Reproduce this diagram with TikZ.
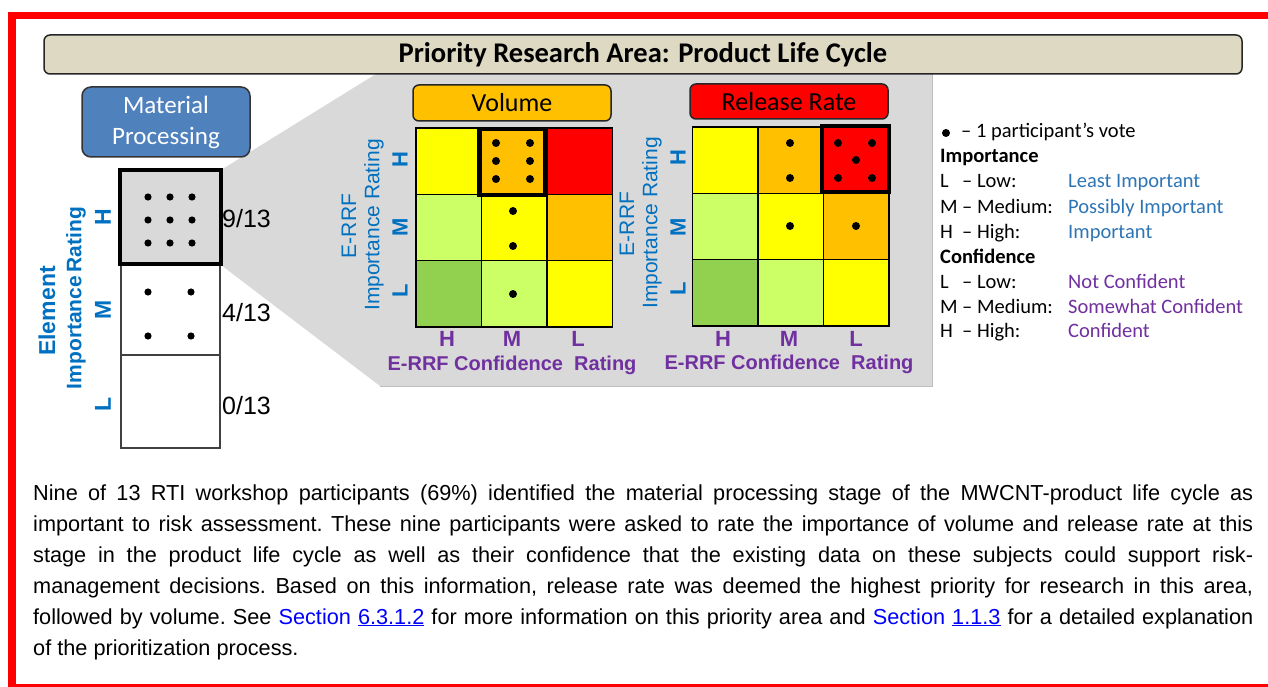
\documentclass[tikz,border=0pt]{standalone}
\usepackage{fontspec}
\setmainfont{Liberation Sans}
\newfontfamily\calfont{Carlito}
\definecolor{cyel}{HTML}{FFFF00}
\definecolor{corg}{HTML}{FFC000}
\definecolor{cred}{HTML}{FF0000}
\definecolor{clg}{HTML}{CCFF66}
\definecolor{cgr}{HTML}{92D050}
\definecolor{cpanel}{HTML}{D9D9D9}
\definecolor{cpanelline}{HTML}{BFBFBF}
\definecolor{ctitle}{HTML}{DDD9C3}
\definecolor{cblue}{HTML}{0070C0}
\definecolor{cpurple}{HTML}{7030A0}
\definecolor{cmat}{HTML}{4F81BD}
\definecolor{clegblue}{HTML}{2E75B6}
\definecolor{clink}{HTML}{0000FF}
\newcommand\mycell[3]{\fill[#3] (#1,#2) rectangle ++(65.5,66.3);}
\newcommand\riskgrid[2]{%
  \mycell{#1}{#2}{cyel}
  \mycell{#1+65.5}{#2}{corg}
  \mycell{#1+131}{#2}{cred}
  \mycell{#1}{#2+66.3}{clg}
  \mycell{#1+65.5}{#2+66.3}{cyel}
  \mycell{#1+131}{#2+66.3}{corg}
  \mycell{#1}{#2+132.6}{cgr}
  \mycell{#1+65.5}{#2+132.6}{clg}
  \mycell{#1+131}{#2+132.6}{cyel}
  \draw[gridline] (#1,#2) rectangle ++(196.5,199);
  \draw[gridline] (#1+65.5,#2) -- ++(0,199);
  \draw[gridline] (#1+131,#2) -- ++(0,199);
  \draw[gridline] (#1,#2+66.3) -- ++(196.5,0);
  \draw[gridline] (#1,#2+132.6) -- ++(196.5,0);
}
\begin{document}
\begin{tikzpicture}[x=1pt,y=-1pt,
  gridline/.style={draw=black,line width=1.2},
  vdot/.style={fill=black},
  titlebox/.style={draw=black!85,line width=1.5,fill=ctitle,rounded corners=6,minimum width=1198,minimum height=39,inner sep=0,font=\calfont\bfseries\fontsize{28.5}{34}\selectfont},
  labbox/.style={draw=black!85,line width=1.5,rounded corners=6,minimum width=198,minimum height=36,inner sep=0,font=\calfont\fontsize{26}{30}\selectfont},
  matbox/.style={draw=black!80,line width=1.5,fill=cmat,rounded corners=9,minimum width=168,minimum height=70,inner sep=0,align=center,text=white,font=\calfont\fontsize{25}{31}\selectfont},
  ylab/.style={rotate=90,inner sep=0,text=cblue,font=\fontsize{21}{25}\selectfont},
  ylet/.style={rotate=90,inner sep=0,text=cblue,font=\bfseries\fontsize{22}{26}\selectfont},
  xlet/.style={inner sep=0,text=cpurple,font=\bfseries\fontsize{22}{26}\selectfont},
  xlab/.style={inner sep=0,text=cpurple,font=\bfseries\fontsize{20}{24}\selectfont},
  num/.style={inner sep=0,anchor=west,font=\fontsize{25}{30}\selectfont},
  leg/.style={inner sep=0,anchor=base west,font=\calfont\fontsize{20.5}{25}\selectfont},
  legb/.style={leg,font=\calfont\bfseries\fontsize{20.5}{25}\selectfont},
  legblue/.style={leg,text=clegblue},
  legpur/.style={leg,text=cpurple}
]
\useasboundingbox (0,0) rectangle (1268,687);
\fill[white] (0,0) rectangle (1268,687);
% red frame
\fill[red] (8,12) rectangle (1268,19);
\fill[red] (8,12) rectangle (16,687);
\fill[red] (8,684) rectangle (1268,687);

% grey zoom panel
\fill[cpanel] (221,170) -- (376,74) -- (932,74) -- (932,386) -- (380,386) -- (221,265) -- cycle;
\draw[cpanelline,line width=1] (932,74) -- (932,386) -- (380,386);

% title
\node[titlebox] (title) at (643,54.5) {Priority Research Area: Product Life Cycle};

% material processing
\node[matbox] (mat) at (166,122) {\raisebox{-2pt}{Material}\\\raisebox{-2pt}{Processing}};

% left column
\draw[draw=black!75,line width=1.2] (121,264) rectangle (220,355);
\draw[draw=black!75,line width=1.2] (121,355) rectangle (220,448);
\draw[line width=4,fill=cpanel] (120,170) rectangle (221,264);
\foreach \xx in {148,170,192}{\foreach \yy in {197,220,243}{\fill[vdot] (\xx,\yy) circle (3.6);}}
\foreach \xx in {148,191}{\foreach \yy in {292,336}{\fill[vdot] (\xx,\yy) circle (3.6);}}
\node[num] (n9) at (222,219) {9/13};
\node[num] (n4) at (222,313) {4/13};
\node[num] (n0) at (222,406) {0/13};
\node[ylab,font=\bfseries\fontsize{23}{27}\selectfont] (elem) at (47,311) {Element};
\node[ylab,font=\bfseries\fontsize{21}{25}\selectfont] (eimp) at (76,298) {Importance\,Rating};
\node[ylet,font=\bfseries\fontsize{23}{27}\selectfont] (eH) at (103,217) {H};
\node[ylet,font=\bfseries\fontsize{23}{27}\selectfont] (eM) at (103,310) {M};
\node[ylet,font=\bfseries\fontsize{23}{27}\selectfont] (eL) at (103,404) {L};

% volume grid
\node[labbox,fill=corg] (vol) at (512,103) {Volume};
\riskgrid{416}{128}
\draw[line width=3.2] (479,129) rectangle (545,195);
\foreach \xx in {496,530}{\foreach \yy in {143,161,179}{\fill[vdot] (\xx,\yy) circle (4);}}
\fill[vdot] (513,211) circle (4);
\fill[vdot] (513,246) circle (4);
\fill[vdot] (513,294) circle (4);
\node[ylab] (vE) at (349,226) {E-RRF};
\node[ylab] (vI) at (374,225) {Importance Rating};
\node[ylet] (vH) at (400,160) {H};
\node[ylet] (vM) at (400,227) {M};
\node[ylet] (vL) at (400,291) {L};
\node[xlet] (vcH) at (447,339) {H};
\node[xlet] (vcM) at (512,339) {M};
\node[xlet] (vcL) at (578,339) {L};
\node[xlab] (vC) at (512,365) {E-RRF Confidence\ \ Rating};

% release rate grid
\node[labbox,fill=cred,minimum height=35] (rel) at (789,101.5) {Release Rate};
\riskgrid{692.5}{127}
\draw[line width=3.5] (822,126) rectangle (889,192);
\fill[vdot] (790,143) circle (4);
\fill[vdot] (790,178) circle (4);
\foreach \xx in {838,872}{\foreach \yy in {143,178}{\fill[vdot] (\xx,\yy) circle (4);}}
\fill[vdot] (856,160) circle (4);
\fill[vdot] (790,226) circle (4);
\fill[vdot] (856,226) circle (4);
\node[ylab] (rE) at (627,224) {E-RRF};
\node[ylab] (rI) at (652,223) {Importance Rating};
\node[ylet] (rH) at (678,158) {H};
\node[ylet] (rM) at (678,227) {M};
\node[ylet] (rL) at (678,289) {L};
\node[xlet] (rcH) at (723,339) {H};
\node[xlet] (rcM) at (789,339) {M};
\node[xlet] (rcL) at (856,339) {L};
\node[xlab] (rC) at (789,364) {E-RRF Confidence\ \ Rating};

% legend
\fill[vdot] (946,133) circle (4);
\node[leg] (lg0) at (961,138) {– 1 participant’s vote};
\node[legb] (lg1) at (940,163) {Importance};
\node[leg] (lg2a) at (940,188) {L};
\node[leg] (lg2b) at (962,188) {– Low:};
\node[legblue] (lg2c) at (1068,188) {Least Important};
\node[leg] (lg3a) at (940,213) {M};
\node[leg] (lg3b) at (962,213) {– Medium:};
\node[legblue] (lg3c) at (1068,213) {Possibly Important};
\node[leg] (lg4a) at (940,238) {H};
\node[leg] (lg4b) at (962,238) {– High:};
\node[legblue] (lg4c) at (1068,238) {Important};
\node[legb] (lg5) at (940,263) {Confidence};
\node[leg] (lg6a) at (940,288) {L};
\node[leg] (lg6b) at (962,288) {– Low:};
\node[legpur] (lg6c) at (1068,288) {Not Confident};
\node[leg] (lg7a) at (940,313) {M};
\node[leg] (lg7b) at (962,313) {– Medium:};
\node[legpur] (lg7c) at (1068,313) {Somewhat Confident};
\node[leg] (lg8a) at (940,337) {H};
\node[leg] (lg8b) at (962,337) {– High:};
\node[legpur] (lg8c) at (1068,337) {Confident};

% caption paragraph
\node[inner sep=0,anchor=base west] (para) at (33,500) {\parbox[t]{1220pt}{\fontsize{21.7}{31}\selectfont\frenchspacing\hyphenpenalty=10000\emergencystretch=2em
Nine of 13 RTI workshop participants (69\%) identified the material processing stage of the MWCNT-product life cycle as\linebreak
important to risk assessment. These nine participants were asked to rate the importance of volume and release rate at this\linebreak
stage in the product life cycle as well as their confidence that the existing data on these subjects could support risk-\linebreak
management decisions. Based on this information, release rate was deemed the highest priority for research in this area,\linebreak
followed by volume. See {\color{clink}Section \underline{6.3.1.2}} for more information on this priority area and {\color{clink}Section \underline{1.1.3}} for a detailed explanation\linebreak
of the prioritization process.}};
\end{tikzpicture}
\end{document}
